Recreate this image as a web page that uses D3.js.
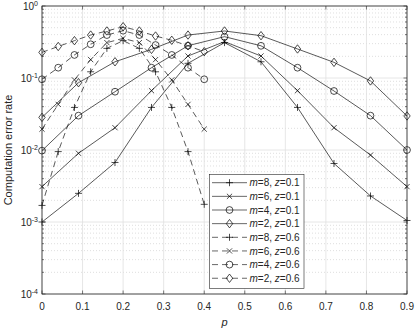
<!DOCTYPE html>
<html>
<head>
<meta charset="utf-8">
<script src="https://cdn.jsdelivr.net/npm/d3@7"></script>
<style>
  body { margin: 0; background: #fff; }
  svg { font-family: "Liberation Sans", Arial, sans-serif; }
</style>
</head>
<body>
<svg id="chart" width="415" height="330"></svg>
<script>
// p values of the two families of curves
const pSolid = [0, 0.09, 0.18, 0.27, 0.36, 0.45, 0.54, 0.63, 0.72, 0.81, 0.9]
const pDashed = [0, 0.04, 0.08, 0.12, 0.16, 0.2, 0.24, 0.28, 0.32, 0.36, 0.4]

// z = 0.1 (solid)
const m8z01 = [0.001, 0.0025, 0.0067, 0.039, 0.16, 0.31, 0.168, 0.039, 0.0065, 0.0023, 0.00105]
const m6z01 = [0.0031, 0.009, 0.0204, 0.0667, 0.202, 0.32, 0.202, 0.0667, 0.0204, 0.0085, 0.0031]
const m4z01 = [0.0098, 0.03, 0.0645, 0.139, 0.281, 0.375, 0.28, 0.139, 0.066, 0.03, 0.01]
const m2z01 = [0.0284, 0.086, 0.168, 0.25, 0.395, 0.45, 0.387, 0.253, 0.165, 0.091, 0.0297]
// z = 0.6 (dashed)
const m8z06 = [0.0017, 0.0095, 0.039, 0.122, 0.258, 0.33, 0.258, 0.122, 0.039, 0.0095, 0.00176]
const m6z06 = [0.0195, 0.043, 0.094, 0.18, 0.31, 0.355, 0.31, 0.18, 0.094, 0.043, 0.0195]
const m4z06 = [0.096, 0.139, 0.209, 0.294, 0.395, 0.454, 0.395, 0.287, 0.209, 0.139, 0.096]
const m2z06 = [0.227, 0.274, 0.33, 0.395, 0.45, 0.516, 0.45, 0.383, 0.334, 0.28, 0.232]

const xTicks = [0, 0.1, 0.2, 0.3, 0.4, 0.5, 0.6, 0.7, 0.8, 0.9]
const yDecades = [-4, -3, -2, -1, 0]

const series = [
  { m: 8, z: '0.1', xs: pSolid, ys: m8z01, mk: 'plus', dash: null },
  { m: 6, z: '0.1', xs: pSolid, ys: m6z01, mk: 'cross', dash: null },
  { m: 4, z: '0.1', xs: pSolid, ys: m4z01, mk: 'circle', dash: null },
  { m: 2, z: '0.1', xs: pSolid, ys: m2z01, mk: 'diamond', dash: null },
  { m: 8, z: '0.6', xs: pDashed, ys: m8z06, mk: 'plus', dash: '6,4' },
  { m: 6, z: '0.6', xs: pDashed, ys: m6z06, mk: 'cross', dash: '6,4' },
  { m: 4, z: '0.6', xs: pDashed, ys: m4z06, mk: 'circle', dash: '6,4' },
  { m: 2, z: '0.6', xs: pDashed, ys: m2z06, mk: 'diamond', dash: '6,4' }
]

const ink = '#262626'
const plotL = 42, plotR = 407, plotT = 6, plotB = 294

const x = d3.scaleLinear().domain([0, 0.9]).range([plotL, plotR])
const y = d3.scaleLog().domain([1e-4, 1]).range([plotB, plotT])

const svg = d3.select('#chart')

const markerPath = (kind) => {
  if (kind === 'plus') return 'M-3.5,0H3.5M0,-3.5V3.5'
  if (kind === 'cross') return 'M-2.6,-2.6L2.6,2.6M-2.6,2.6L2.6,-2.6'
  if (kind === 'diamond') return 'M0,-4.2L3.2,0L0,4.2L-3.2,0Z'
  return null
}

const drawMarker = (g, kind, cx, cy) => {
  if (kind === 'circle') {
    g.append('circle').attr('cx', cx).attr('cy', cy).attr('r', 3.4)
      .attr('fill', 'none').attr('stroke', '#000').attr('stroke-width', 0.7)
  } else {
    g.append('path').attr('d', markerPath(kind))
      .attr('transform', `translate(${cx},${cy})`)
      .attr('fill', 'none').attr('stroke', '#000').attr('stroke-width', 0.7)
  }
}

// grid
const grid = svg.append('g')
yDecades.slice(0, -1).forEach(d => {
  for (let k = 2; k <= 9; k++) {
    grid.append('line')
      .attr('x1', plotL).attr('x2', plotR)
      .attr('y1', y(k * Math.pow(10, d))).attr('y2', y(k * Math.pow(10, d)))
      .attr('stroke', '#c8c8c8').attr('stroke-width', 0.6)
      .attr('stroke-dasharray', '1,2')
  }
})
yDecades.forEach(d => {
  grid.append('line')
    .attr('x1', plotL).attr('x2', plotR)
    .attr('y1', y(Math.pow(10, d))).attr('y2', y(Math.pow(10, d)))
    .attr('stroke', '#e0e0e0').attr('stroke-width', 0.8)
})
xTicks.forEach(t => {
  grid.append('line')
    .attr('x1', x(t)).attr('x2', x(t))
    .attr('y1', plotT).attr('y2', plotB)
    .attr('stroke', '#e0e0e0').attr('stroke-width', 0.8)
})

// curves
const line = d3.line().x(d => x(d[0])).y(d => y(d[1]))
series.forEach(s => {
  const pts = s.xs.map((p, i) => [p, s.ys[i]])
  svg.append('path').datum(pts)
    .attr('d', line)
    .attr('fill', 'none').attr('stroke', '#000').attr('stroke-width', 0.65)
    .attr('stroke-dasharray', s.dash)
  const g = svg.append('g')
  pts.forEach(d => drawMarker(g, s.mk, x(d[0]), y(d[1])))
})

// axes box and ticks
svg.append('rect')
  .attr('x', plotL).attr('y', plotT)
  .attr('width', plotR - plotL).attr('height', plotB - plotT)
  .attr('fill', 'none').attr('stroke', ink).attr('stroke-width', 0.8)

const ticks = svg.append('g').attr('stroke', ink).attr('stroke-width', 0.6)
xTicks.forEach(t => {
  ticks.append('line').attr('x1', x(t)).attr('x2', x(t)).attr('y1', plotB).attr('y2', plotB - 3.5)
  ticks.append('line').attr('x1', x(t)).attr('x2', x(t)).attr('y1', plotT).attr('y2', plotT + 3.5)
})
yDecades.forEach(d => {
  const yy = y(Math.pow(10, d))
  ticks.append('line').attr('x1', plotL).attr('x2', plotL + 3.5).attr('y1', yy).attr('y2', yy)
  ticks.append('line').attr('x1', plotR).attr('x2', plotR - 3.5).attr('y1', yy).attr('y2', yy)
  if (d < 0) {
    for (let k = 2; k <= 9; k++) {
      const ym = y(k * Math.pow(10, d))
      ticks.append('line').attr('x1', plotL).attr('x2', plotL + 2).attr('y1', ym).attr('y2', ym)
      ticks.append('line').attr('x1', plotR).attr('x2', plotR - 2).attr('y1', ym).attr('y2', ym)
    }
  }
})

// tick labels
svg.append('g').selectAll('text').data(xTicks).join('text')
  .attr('x', d => x(d)).attr('y', 310)
  .attr('text-anchor', 'middle').attr('font-size', 10).attr('fill', ink)
  .text(d => d3.format('')(d))

const yl = svg.append('g').selectAll('text').data(yDecades).join('text')
  .attr('x', 38).attr('y', d => y(Math.pow(10, d)) + 4)
  .attr('text-anchor', 'end').attr('font-size', 10).attr('fill', ink)
yl.append('tspan').text('10')
yl.append('tspan').attr('dy', -4).attr('font-size', 7).text(d => String(d))

// axis titles
svg.append('text')
  .attr('x', (plotL + plotR) / 2).attr('y', 326)
  .attr('text-anchor', 'middle').attr('font-size', 11).attr('font-style', 'italic')
  .attr('fill', ink).text('p')

svg.append('text')
  .attr('transform', `translate(12,${(plotT + plotB) / 2}) rotate(-90)`)
  .attr('text-anchor', 'middle').attr('font-size', 11).attr('fill', ink)
  .text('Computation error rate')

// legend
const lg = svg.append('g')
lg.append('rect')
  .attr('x', 209.5).attr('y', 174.5).attr('width', 94.5).attr('height', 114)
  .attr('fill', '#fff').attr('stroke', ink).attr('stroke-width', 0.6)
series.forEach((s, i) => {
  const ly = 182.7 + i * 13.65
  lg.append('line')
    .attr('x1', 212).attr('x2', 247).attr('y1', ly).attr('y2', ly)
    .attr('stroke', '#000').attr('stroke-width', 0.6)
    .attr('stroke-dasharray', s.dash)
  drawMarker(lg, s.mk, 229.5, ly)
  const t = lg.append('text')
    .attr('x', 249.5).attr('y', ly + 3.6)
    .attr('font-size', 10).attr('fill', ink)
  t.append('tspan').attr('font-style', 'italic').text('m')
  t.append('tspan').text(`=${s.m}, `)
  t.append('tspan').attr('font-style', 'italic').text('z')
  t.append('tspan').text(`=${s.z}`)
})
</script>
</body>
</html>
